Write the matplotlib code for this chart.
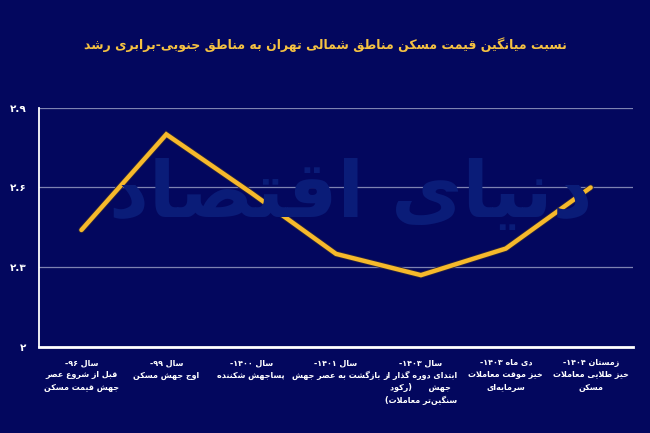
import matplotlib
matplotlib.use("Agg")
import matplotlib.pyplot as plt
import matplotlib.patheffects as pe
import numpy as np

# ---- data ----
categories = [
    "سال ۹۶-\nقبل از شروع عصر\nجهش قیمت مسکن",
    "سال ۹۹-\nاوج جهش مسکن",
    "سال ۱۴۰۰-\nپساجهش شکننده",
    "سال ۱۴۰۱-\nبازگشت به عصر جهش",
    "سال ۱۴۰۳-\nابتدای دوره گذار از\nجهش      (رکود\nسنگین\u200cتر معاملات)",
    "دی ماه ۱۴۰۳-\nخیز موقت معاملات\nسرمایه\u200cای",
    "زمستان ۱۴۰۴-\nخیز طلایی معاملات\nمسکن",
]
ratio = [2.44, 2.80, 2.58, 2.35, 2.27, 2.37, 2.60]
yticks = [2.0, 2.3, 2.6, 2.9]
ytick_labels = ["۲", "۲.۳", "۲.۶", "۲.۹"]
title = "نسبت میانگین قیمت مسکن مناطق شمالی تهران به مناطق جنوبی-برابری رشد"
watermark = "دنیای اقتصاد"

# ---- minimal persian shaping (no arabic_reshaper available) ----
# char: (isolated, final, initial, medial); two entries -> right-joining only
FORMS = {
    "ا": (0xFE8D, 0xFE8E), "آ": (0xFE81, 0xFE82),
    "ب": (0xFE8F, 0xFE90, 0xFE91, 0xFE92), "پ": (0xFB56, 0xFB57, 0xFB58, 0xFB59),
    "ت": (0xFE95, 0xFE96, 0xFE97, 0xFE98), "ث": (0xFE99, 0xFE9A, 0xFE9B, 0xFE9C),
    "ج": (0xFE9D, 0xFE9E, 0xFE9F, 0xFEA0), "چ": (0xFB7A, 0xFB7B, 0xFB7C, 0xFB7D),
    "ح": (0xFEA1, 0xFEA2, 0xFEA3, 0xFEA4), "خ": (0xFEA5, 0xFEA6, 0xFEA7, 0xFEA8),
    "د": (0xFEA9, 0xFEAA), "ذ": (0xFEAB, 0xFEAC), "ر": (0xFEAD, 0xFEAE),
    "ز": (0xFEAF, 0xFEB0), "ژ": (0xFB8A, 0xFB8B),
    "س": (0xFEB1, 0xFEB2, 0xFEB3, 0xFEB4), "ش": (0xFEB5, 0xFEB6, 0xFEB7, 0xFEB8),
    "ص": (0xFEB9, 0xFEBA, 0xFEBB, 0xFEBC), "ض": (0xFEBD, 0xFEBE, 0xFEBF, 0xFEC0),
    "ط": (0xFEC1, 0xFEC2, 0xFEC3, 0xFEC4), "ظ": (0xFEC5, 0xFEC6, 0xFEC7, 0xFEC8),
    "ع": (0xFEC9, 0xFECA, 0xFECB, 0xFECC), "غ": (0xFECD, 0xFECE, 0xFECF, 0xFED0),
    "ف": (0xFED1, 0xFED2, 0xFED3, 0xFED4), "ق": (0xFED5, 0xFED6, 0xFED7, 0xFED8),
    "ک": (0xFB8E, 0xFB8F, 0xFB90, 0xFB91), "گ": (0xFB92, 0xFB93, 0xFB94, 0xFB95),
    "ل": (0xFEDD, 0xFEDE, 0xFEDF, 0xFEE0), "م": (0xFEE1, 0xFEE2, 0xFEE3, 0xFEE4),
    "ن": (0xFEE5, 0xFEE6, 0xFEE7, 0xFEE8), "و": (0xFEED, 0xFEEE),
    "ه": (0xFEE9, 0xFEEA, 0xFEEB, 0xFEEC), "ی": (0xFBFC, 0xFBFD, 0xFBFE, 0xFBFF),
}
DIGITS = set("۰۱۲۳۴۵۶۷۸۹0123456789")
MIRROR = {"(": ")", ")": "("}


def shape(s):
    out = []
    i = 0
    n = len(s)
    while i < n:
        c = s[i]
        if c not in FORMS:
            if c != "\u200c":
                out.append(c)
            i += 1
            continue
        prev = s[i - 1] if i > 0 else ""
        joins_prev = prev in FORMS and len(FORMS[prev]) == 4
        if c == "ل" and i + 1 < n and s[i + 1] in "اآ":
            if s[i + 1] == "ا":
                out.append(chr(0xFEFC if joins_prev else 0xFEFB))
            else:
                out.append(chr(0xFEF6 if joins_prev else 0xFEF5))
            i += 2
            continue
        nxt = s[i + 1] if i + 1 < n else ""
        f = FORMS[c]
        joins_next = len(f) == 4 and nxt in FORMS
        if joins_prev and joins_next:
            out.append(chr(f[3]))
        elif joins_prev:
            out.append(chr(f[1]))
        elif joins_next:
            out.append(chr(f[2]))
        else:
            out.append(chr(f[0]))
        i += 1
    return "".join(out)


def visual(line):
    # split into digit runs (kept LTR) and the rest, then lay out RTL
    runs = []
    cur = ""
    cur_num = None
    for k, c in enumerate(line):
        is_num = c in DIGITS or (c == "." and cur_num and k + 1 < len(line) and line[k + 1] in DIGITS)
        if cur_num is None or is_num == cur_num:
            cur += c
        else:
            runs.append((cur, cur_num))
            cur = c
        cur_num = is_num
    runs.append((cur, cur_num))
    parts = []
    for txt, num in reversed(runs):
        if num:
            parts.append(txt)
        else:
            parts.append("".join(MIRROR.get(ch, ch) for ch in reversed(shape(txt))))
    return "".join(parts)


def fa(text):
    return "\n".join(visual(l) for l in text.split("\n"))


# ---- plot ----
bg = "#03075e"
plt.rcParams["font.family"] = ["DejaVu Sans"]

fig = plt.figure(figsize=(6.5, 4.33), dpi=100, facecolor=bg)
ax = fig.add_axes([0.06, 0.199, 0.914, 0.552])
ax.set_facecolor(bg)

x = np.arange(len(categories))

fig.text(0.54, 0.55, fa(watermark), fontsize=56, fontweight="bold",
         color="#0a1c78", ha="center", va="center", zorder=0)

ax.plot(x, ratio, color="#f6b92b", lw=3.2, solid_capstyle="round",
        solid_joinstyle="miter", zorder=3,
        path_effects=[pe.Stroke(linewidth=4.4, foreground="#2a2440"), pe.Normal()])

ax.set_xlim(-0.5, len(categories) - 0.5)
ax.set_ylim(2.0, 2.9)
ax.set_yticks(yticks)
ax.set_yticklabels(ytick_labels, color="white", fontsize=7.5, fontweight="bold")
ax.set_xticks(x)
ax.set_xticklabels([fa(c) for c in categories], color="white", fontsize=5.8,
                   fontweight="bold", linespacing=1.5, va="top")
ax.tick_params(axis="both", length=0)
ax.tick_params(axis="x", pad=8)
ax.tick_params(axis="y", pad=9)
ax.grid(axis="y", color="#9da2c8", lw=0.9, alpha=0.8)
ax.set_axisbelow(True)
for side in ["top", "right"]:
    ax.spines[side].set_visible(False)
ax.spines["left"].set_color("white")
ax.spines["left"].set_linewidth(1.3)
ax.spines["bottom"].set_color("white")
ax.spines["bottom"].set_linewidth(2.0)

fig.text(0.5, 0.897, fa(title), color="#f5c242", fontsize=9,
         fontweight="bold", ha="center", va="center")

fig.savefig("out.png", dpi=100, facecolor=bg)
